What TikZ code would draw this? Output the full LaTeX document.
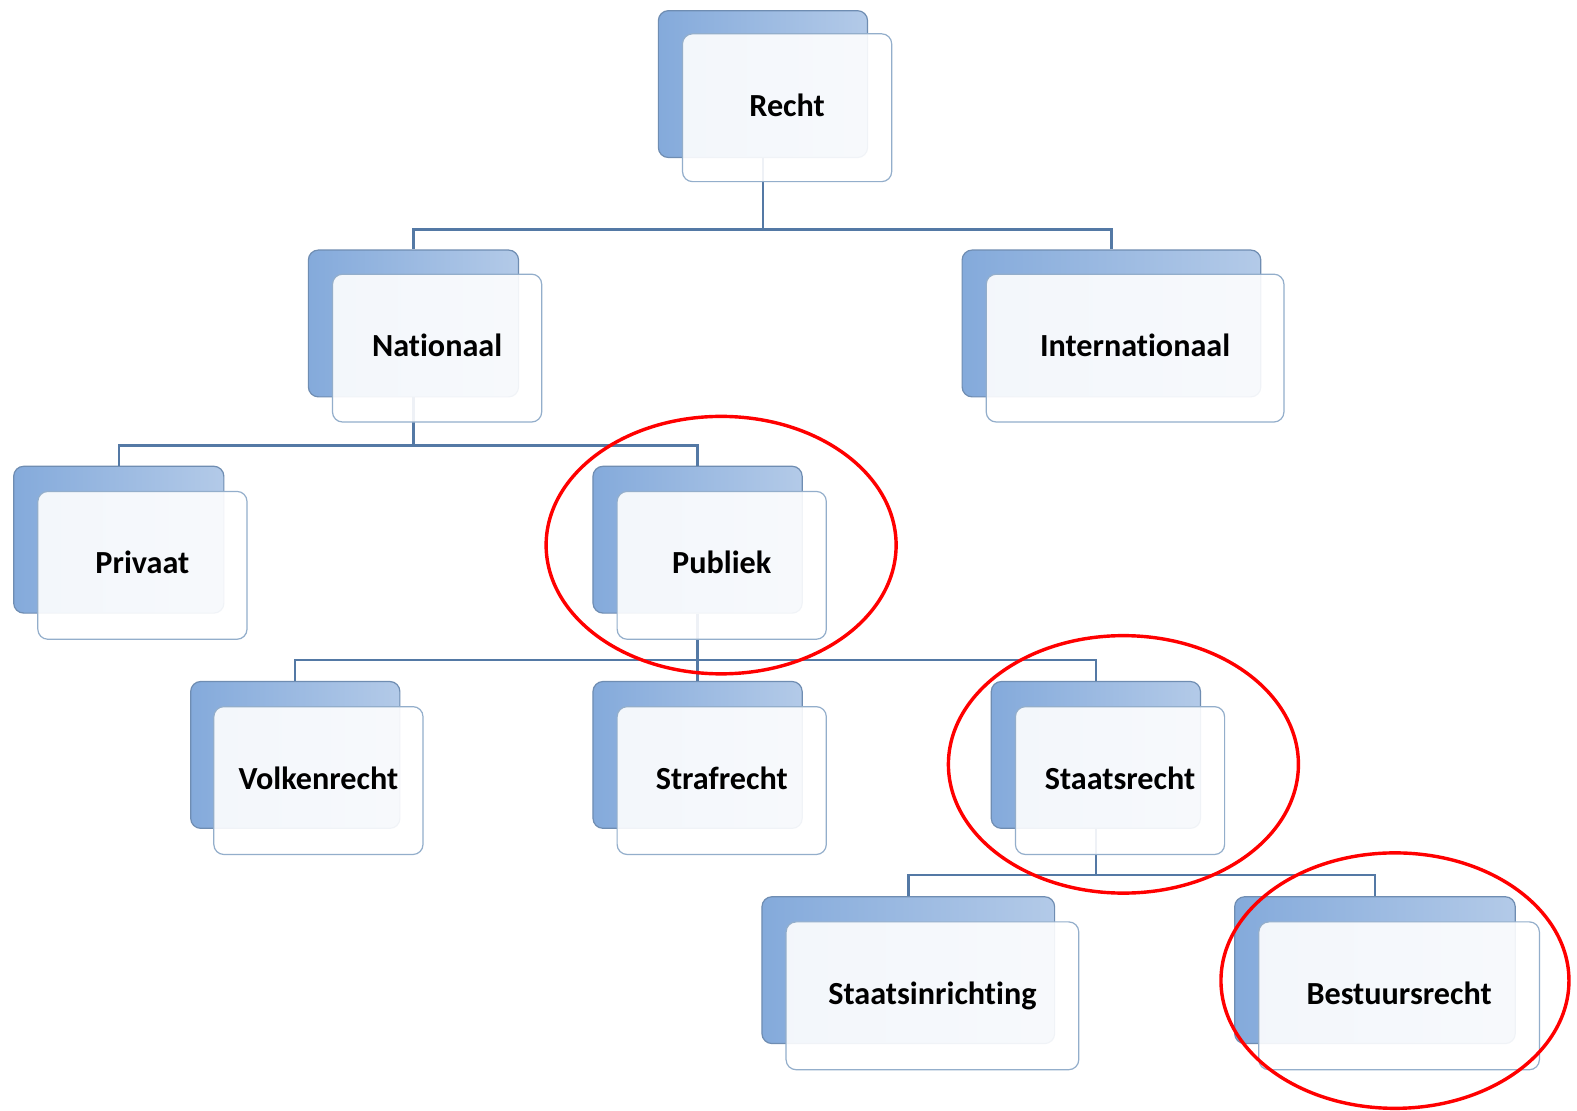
\documentclass[tikz,border=0pt]{standalone}
\usepackage{fontspec}
\setmainfont{Carlito}[Ligatures=NoCommon]
\definecolor{BackDark}{HTML}{84AADB}
\definecolor{BackLight}{HTML}{B3CAE8}
\definecolor{BackLine}{HTML}{6F8DB2}
\definecolor{FrontLine}{HTML}{93AECB}
\definecolor{Conn}{HTML}{5479A5}
\begin{document}
\begin{tikzpicture}[x=1pt,y=-1pt,
  backbox/.style={rectangle, rounded corners=10pt, minimum width=#1, minimum height=146pt,
    inner sep=0pt, draw=BackLine, line width=1.2pt, left color=BackDark, right color=BackLight,
    anchor=north west},
  frontbox/.style={rectangle, rounded corners=10pt, minimum width=#1, minimum height=147pt,
    inner sep=0pt, draw=FrontLine, line width=1.2pt, fill=white, fill opacity=0.9,
    text opacity=1, anchor=north west, text height=23pt, text depth=6pt,
    font=\bfseries\fontsize{32}{38}\selectfont},
  conn/.style={draw=Conn, line width=2.4pt},
  ring/.style={draw=red, line width=3.4pt}]
\useasboundingbox[fill=white] (0,0) rectangle (1568,1104);

% back boxes
\node[backbox=208pt] (rechtB)  at (654,10)  {};
\node[backbox=209pt] (natB)    at (306,248) {};
\node[backbox=297pt] (intB)    at (956,248) {};
\node[backbox=209pt] (privB)   at (13,463)  {};
\node[backbox=208pt] (pubB)    at (589,463) {};
\node[backbox=208pt] (volkB)   at (189,677) {};
\node[backbox=208pt] (strafB)  at (589,677) {};
\node[backbox=208pt] (staatsB) at (985,677) {};
\node[backbox=291pt] (inrB)    at (757,891) {};
\node[backbox=279pt] (bestB)   at (1227,891) {};

% connectors
\coordinate (barA) at (0,228);
\coordinate (barB) at (0,443);
\coordinate (barC) at (0,656);
\coordinate (barD) at (0,870);
\draw[conn] (rechtB.south) -- (rechtB.south |- barA) -| (natB.north);
\draw[conn] (rechtB.south |- barA) -| (intB.north);
\draw[conn] (natB.south) -- (natB.south |- barB) -| (privB.north);
\draw[conn] (natB.south |- barB) -| (pubB.north);
\draw[conn] (pubB.south) -- (pubB.south |- barC) -| (volkB.north);
\draw[conn] (pubB.south |- barC) -- (strafB.north);
\draw[conn] (pubB.south |- barC) -| (staatsB.north);
\draw[conn] (staatsB.south) -- (staatsB.south |- barD) -| (inrB.north);
\draw[conn] (staatsB.south |- barD) -| (bestB.north);

% front boxes
\node[frontbox=208pt] (recht)  at (678,33)   {Recht};
\node[frontbox=208pt] (nat)    at (330,272)  {Nationaal};
\node[frontbox=296pt] (int)    at (980,272)  {Internationaal};
\node[frontbox=208pt] (priv)   at (37,488)   {Privaat};
\node[frontbox=208pt] (pub)    at (613,488)  {Publiek};
\node[frontbox=208pt] (volk)   at (212,702)  {Volkenrecht};
\node[frontbox=208pt] (straf)  at (613,702)  {Strafrecht};
\node[frontbox=208pt] (staats) at (1009,702) {Staatsrecht};
\node[frontbox=291pt] (inr)    at (781,916)  {Staatsinrichting};
\node[frontbox=279pt] (best)   at (1251,916) {Bestuursrecht};

% red rings
\draw[ring] (717,542) ellipse [x radius=174pt, y radius=128pt];
\draw[ring] (1117,760) ellipse [x radius=174pt, y radius=128pt];
\draw[ring] (1387,975) ellipse [x radius=173pt, y radius=127pt];
\end{tikzpicture}
\end{document}
